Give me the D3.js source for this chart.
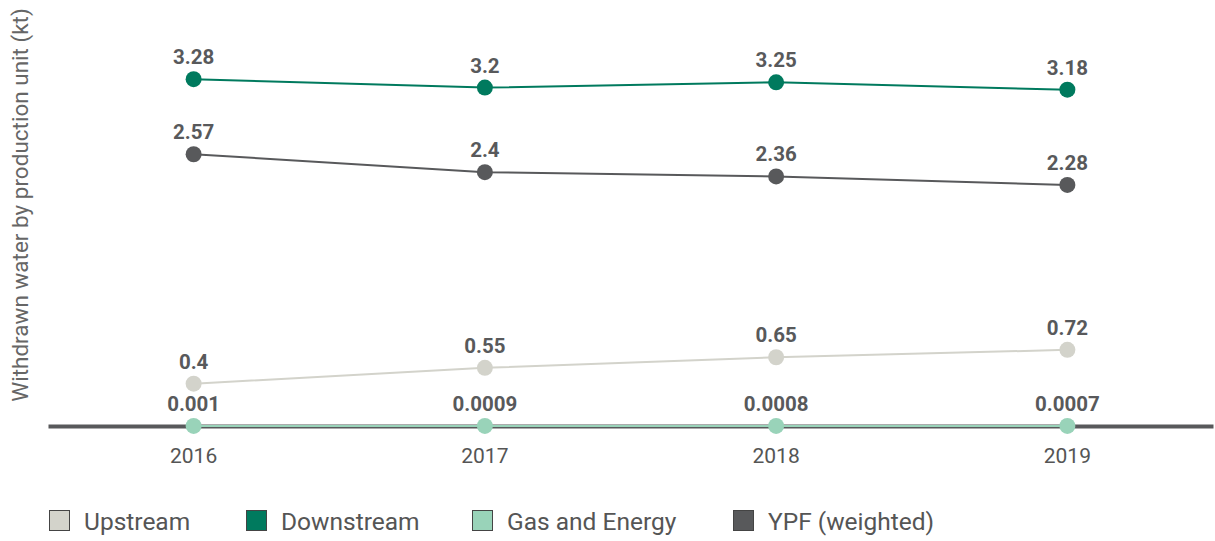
<!DOCTYPE html>
<html><head><meta charset="utf-8">
<script src="https://cdn.jsdelivr.net/npm/d3@7"></script>
<style>body{margin:0;background:#fff;}svg{display:block;font-family:Roboto, "DejaVu Sans", sans-serif;}</style>
</head><body>
<svg id="c" width="1215" height="541"></svg>
<script>
const years = ["2016","2017","2018","2019"];
const upstream = [0.4, 0.55, 0.65, 0.72];
const downstream = [3.28, 3.2, 3.25, 3.18];
const gasEnergy = [0.001, 0.0009, 0.0008, 0.0007];
const ypf = [2.57, 2.4, 2.36, 2.28];
const seriesNames = ["Upstream","Downstream","Gas and Energy","YPF (weighted)"];
const seriesColors = ["#d3d3cb","#007a5e","#99d3b9","#58595b"];
const yAxisTitle = "Withdrawn water by production unit (kt)";

const series = [
  {name: seriesNames[0], values: upstream, color: seriesColors[0]},
  {name: seriesNames[1], values: downstream, color: seriesColors[1]},
  {name: seriesNames[2], values: gasEnergy, color: seriesColors[2]},
  {name: seriesNames[3], values: ypf, color: seriesColors[3]}
];

const svg = d3.select("#c");
const x = d3.scaleBand().domain(years).range([48, 1213]);
const y = d3.scaleLinear().domain([0, 4]).range([426, 3]);
const cx = d => x(d) + x.bandwidth()/2;

// y axis title
svg.append("text")
  .attr("transform", `translate(28,205) rotate(-90)`)
  .attr("text-anchor","middle")
  .attr("font-size",22.5).attr("fill","#666")
  .text(yAxisTitle);

// x axis
const xAxis = svg.append("g").attr("transform",`translate(0,${y(0)})`)
  .call(d3.axisBottom(x).tickSize(0).tickPadding(22));
xAxis.select(".domain").attr("stroke","#58595b").attr("stroke-width",4);
xAxis.selectAll("text").attr("font-size",21).attr("fill","#555").attr("font-family","Roboto, sans-serif");

const line = d3.line().x((d,i)=>cx(years[i])).y(d=>y(d));

// draw order: upstream, ypf, downstream, gas
const order = [0,3,1,2];
order.forEach(k => {
  const s = series[k];
  const g = svg.append("g");
  g.append("path").datum(s.values).attr("d", line)
    .attr("fill","none").attr("stroke", s.color).attr("stroke-width", 2);
  g.selectAll("circle").data(s.values).join("circle")
    .attr("cx",(d,i)=>cx(years[i])).attr("cy",d=>y(d)).attr("r",8)
    .attr("fill", s.color);
  g.selectAll("text").data(s.values).join("text")
    .attr("x",(d,i)=>cx(years[i])).attr("y",d=>y(d)-15)
    .attr("text-anchor","middle").attr("font-size",20.5).attr("font-weight","bold")
    .attr("fill","#58595b")
    .text(d=>String(d));
});

// legend
const legendX = [49, 246, 472, 733];
const lg = svg.append("g");
series.forEach((s,i) => {
  lg.append("rect").attr("x",legendX[i]+0.5).attr("y",510.5).attr("width",20).attr("height",20)
    .attr("fill", s.color).attr("stroke","#444").attr("stroke-width",1);
  lg.append("text").attr("x",legendX[i]+35).attr("y",530)
    .attr("font-size",24.5).attr("fill","#555").text(s.name);
});
</script>
</body></html>
